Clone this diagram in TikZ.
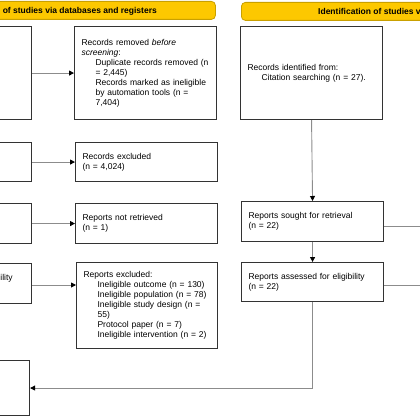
\documentclass[tikz,border=0pt]{standalone}
\usepackage{fontspec}
\setmainfont{Liberation Sans}
\usetikzlibrary{arrows.meta}
\definecolor{bannerfill}{HTML}{FDC800}
\definecolor{bannerline}{HTML}{C9A000}
\definecolor{connc}{HTML}{8C8C8C}
\definecolor{boxline}{HTML}{333333}
\tikzset{
  box/.style={draw=boxline, line width=1.1pt, anchor=north west, inner xsep=7pt, inner ysep=0pt,
    align=left, font=\fontsize{8.5}{10}\selectfont},
  connector/.style={draw=connc, line width=0.9pt},
  arrowed/.style={connector, -{Triangle[length=5pt,width=5pt,black]}},
  bannerbox/.style={fill=bannerfill, draw=bannerline, line width=0.8pt, rounded corners=4pt,
    anchor=north west, inner sep=0pt},
  bannertext/.style={font=\fontsize{8.5}{10}\selectfont\bfseries, inner sep=0pt}
}
\begin{document}
\begin{tikzpicture}[x=1pt, y=-1pt]
\useasboundingbox (0,0) rectangle (420,420);
\clip (0,0) rectangle (420,420);
% banners
\node[bannerbox, minimum width=335pt, minimum height=18pt] (bannerL) at (-120,1) {};
\node[bannertext, anchor=east] (bannerLtext) at (157,11) {Identification of studies via databases and registers};
\node[bannerbox, minimum width=240pt, minimum height=18pt] (bannerR) at (241,2) {};
\node[bannertext, anchor=west] (bannerRtext) at (318,11) {Identification of studies via other methods};
% boxes
\node[box, minimum width=142pt, minimum height=93pt, text width=128pt] (identdb) at (-111,26) {};
\node[box, minimum width=142pt, minimum height=93pt, text width=128pt] (removed) at (74,26)
 {Records removed \textit{before}\\
  \textit{screening}:\\
  \hspace*{14pt}Duplicate records removed (n\\
  \hspace*{14pt}= 2,445)\\
  \hspace*{14pt}Records marked as ineligible\\
  \hspace*{14pt}by automation tools (n =\\
  \hspace*{14pt}7,404)};
\node[box, minimum width=142pt, minimum height=93pt, text width=128pt] (citation) at (240,26)
 {Records identified from:\\
  \hspace*{14pt}Citation searching (n = 27).};
\node[box, minimum width=142pt, minimum height=39pt, text width=128pt] (screened) at (-111,142) {};
\node[box, minimum width=142pt, minimum height=39pt, text width=128pt] (excluded) at (75,142)
 {Records excluded\\(n = 4,024)};
\node[box, minimum width=142pt, minimum height=40pt, text width=128pt] (soughtdb) at (-111,203)
 {Reports sought for retrieval\\\phantom{(n)}};
\node[box, minimum width=142pt, minimum height=40pt, text width=128pt] (notretr) at (75,203)
 {Reports not retrieved\\(n = 1)};
\node[box, minimum width=142pt, minimum height=40pt, text width=128pt] (soughtcit) at (241,201)
 {Reports sought for retrieval\\(n = 22)};
\node[box, minimum width=142pt, minimum height=40pt, text width=128pt] (assesseddb) at (-111,263)
 {Reports assessed for eligibility\\\phantom{(n)}};
\node[box, minimum width=141pt, minimum height=86pt, text width=127pt] (repexcl) at (76,262)
 {Reports excluded:\\
  \hspace*{14pt}Ineligible outcome (n = 130)\\
  \hspace*{14pt}Ineligible population (n = 78)\\
  \hspace*{14pt}Ineligible study design (n =\\
  \hspace*{14pt}55)\\
  \hspace*{14pt}Protocol paper (n = 7)\\
  \hspace*{14pt}Ineligible intervention (n = 2)};
\node[box, minimum width=142pt, minimum height=39pt, text width=128pt] (assessedcit) at (241,262)
 {Reports assessed for eligibility\\(n = 22)};
\node[box, minimum width=140pt, minimum height=55pt, text width=126pt] (included) at (-111,360) {};
% connectors
\coordinate (rt1) at (430,226);
\coordinate (rt2) at (430,285);
\draw[arrowed] (identdb.east) -- (removed.west);
\draw[arrowed] (screened.east) -- (excluded.west);
\draw[arrowed] (soughtdb.east) -- (notretr.west);
\draw[arrowed] (assesseddb.east |- 0,285) -- (repexcl.west |- 0,285);
\draw[arrowed] (citation.south) -- (soughtcit.north);
\draw[arrowed] (soughtcit.south) -- (assessedcit.north);
\draw[connector] (soughtcit.east |- rt1) -- (rt1);
\draw[connector] (assessedcit.east |- rt2) -- (rt2);
\draw[arrowed] (assessedcit.south) |- (included.east);
\end{tikzpicture}
\end{document}
